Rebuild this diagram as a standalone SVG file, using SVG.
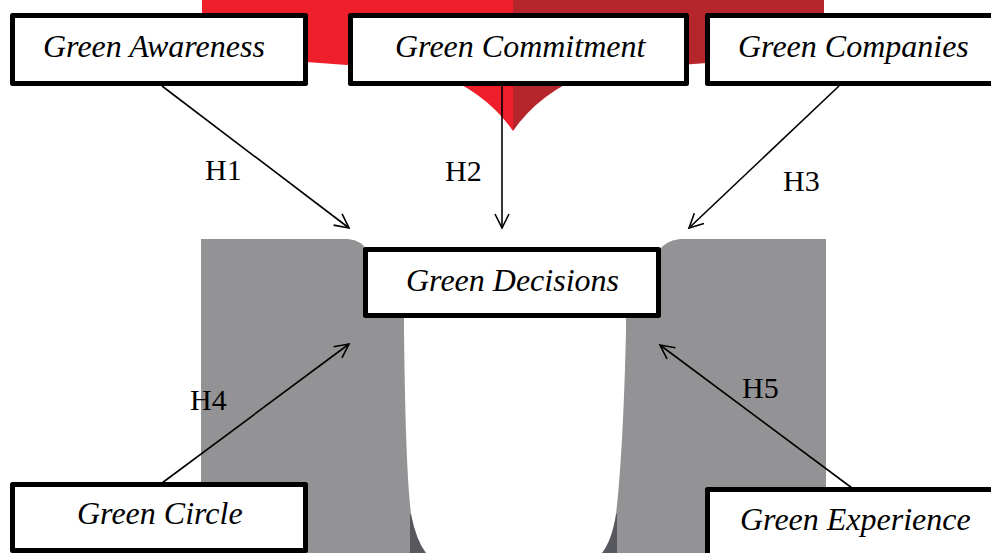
<svg xmlns="http://www.w3.org/2000/svg" width="991" height="553" viewBox="0 0 991 553">
<style>
.box{fill:#fff;stroke:#000;stroke-width:5;stroke-linejoin:round}
.bt{font-family:"Liberation Serif","Times New Roman",serif;font-style:italic;font-size:32px;fill:#000}
.hl{font-family:"Liberation Serif","Times New Roman",serif;font-size:30px;fill:#000}
.cn{fill:none;stroke:#000;stroke-width:1.6;marker-end:url(#ah)}
</style>
<defs>
<marker id="ah" markerUnits="userSpaceOnUse" markerWidth="20" markerHeight="18" refX="16" refY="8" orient="auto">
<path d="M2,1 L16,8 L2,15" fill="none" stroke="#000" stroke-width="1.6"/>
</marker>
</defs>
<g id="background">
<path d="M202,0 H513 V131 Q486,92 436,73 Q330,62 202,56 Z" fill="#ee1f2b"/>
<path d="M513,0 H824 V56 Q696,62 590,73 Q540,92 513,131 Z" fill="#b5252c"/>
<path d="M201,239 H348 Q362,240 368,252 H658 Q664,241 680,239 H826 V553 H201 Z" fill="#939395"/>
<rect x="410" y="514" width="207" height="39" fill="#57575e"/>
<path d="M404,300 V330 C405,420 407,480 411,514 Q416,540 426,553 H602 Q612,540 616,514 C620,480 624,420 626,330 V300 Z" fill="#fff"/>
</g>
<g id="connectors">
<line class="cn" x1="162" y1="86" x2="349" y2="228"/>
<line class="cn" x1="502" y1="86" x2="502" y2="228"/>
<line class="cn" x1="839" y1="86" x2="689" y2="228"/>
<line class="cn" x1="162" y1="483" x2="349" y2="344"/>
<line class="cn" x1="852" y1="488" x2="660" y2="345"/>
<text class="hl" x="205" y="180">H1</text>
<text class="hl" x="445" y="181">H2</text>
<text class="hl" x="783" y="191">H3</text>
<text class="hl" x="190" y="410">H4</text>
<text class="hl" x="742" y="398">H5</text>
</g>
<g id="awareness">
<rect class="box" x="12.5" y="15.5" width="293" height="68"/>
<text class="bt" x="43" y="57">Green Awareness</text>
</g>
<g id="commitment">
<rect class="box" x="350.5" y="15.5" width="336" height="68"/>
<text class="bt" x="395" y="57">Green Commitment</text>
</g>
<g id="companies">
<rect class="box" x="707.5" y="15.5" width="300" height="68"/>
<text class="bt" x="738" y="57">Green Companies</text>
</g>
<g id="decisions">
<rect class="box" x="365.5" y="249.5" width="293" height="66"/>
<text class="bt" x="406" y="291">Green Decisions</text>
</g>
<g id="circle">
<rect class="box" x="12.5" y="484.5" width="293" height="66"/>
<text class="bt" x="77" y="524">Green Circle</text>
</g>
<g id="experience">
<rect class="box" x="707.5" y="489.5" width="300" height="80"/>
<text class="bt" x="740" y="530">Green Experience</text>
</g>
</svg>
